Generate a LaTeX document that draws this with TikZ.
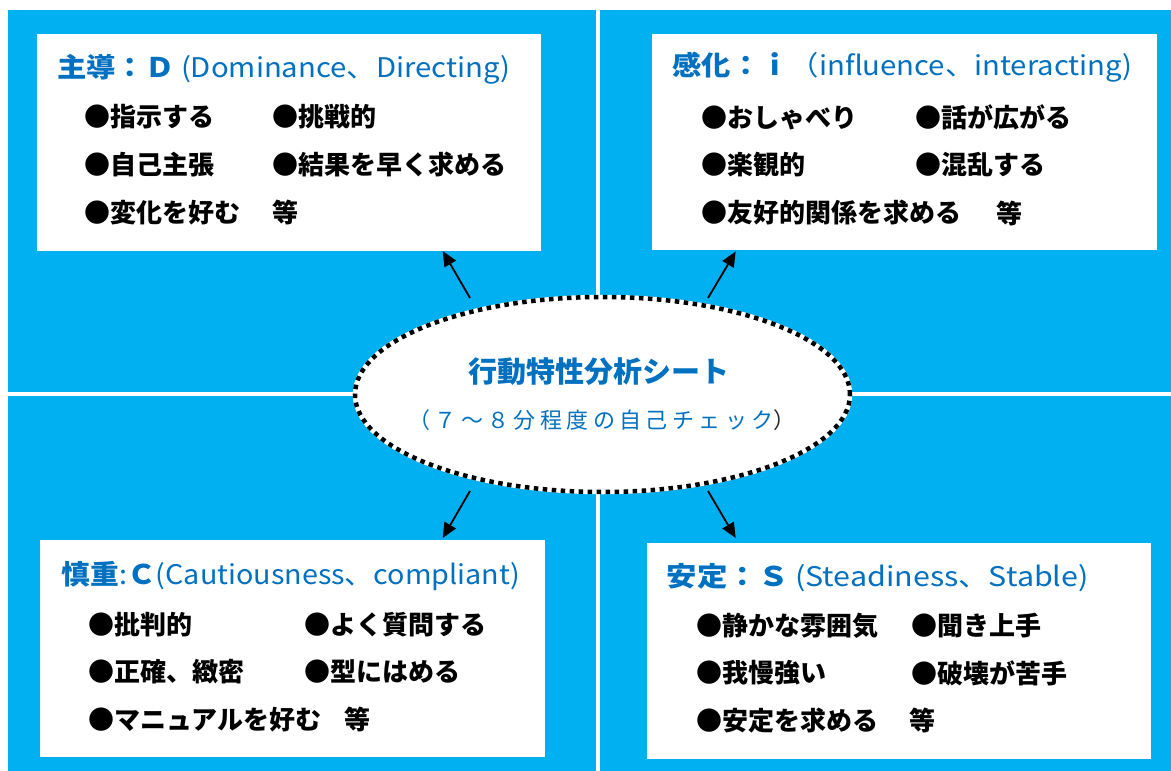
\documentclass[tikz,border=0pt]{standalone}
\usepackage{fontspec}
\setmainfont{Noto Sans CJK JP}
\usetikzlibrary{shapes.geometric,arrows.meta}
\definecolor{bgblue}{HTML}{00B0F0}
\definecolor{hdblue}{HTML}{0070C0}
\tikzset{
  box/.style={fill=white, draw=none, anchor=north west, inner sep=0pt},
  hd/.style={anchor=west, inner sep=0pt, text=hdblue, font=\fontsize{27pt}{31pt}\selectfont},
  itm/.style={anchor=west, inner sep=0pt, text=black, font=\fontsize{26pt}{30pt}\selectfont\bfseries},
  arr/.style={line width=1.8pt, -{Triangle[length=15pt,width=13pt]}},
  dotline/.style={line width=4.5pt, dash pattern=on 4.5pt off 4.5pt, draw=black},
}
\begin{document}
\begin{tikzpicture}[x=1pt,y=-1pt]
\useasboundingbox (0,0) rectangle (1171,771);
\fill[white] (0,0) rectangle (1171,771);
\fill[bgblue] (8,10) rectangle (1171,771);
\fill[white] (595.5,10) rectangle (599.5,771);
\fill[white] (8,392) rectangle (1171,396);

% boxes
\node[box, minimum width=504pt, minimum height=216.5pt] (tl) at (36.5,34) {};
\node[box, minimum width=505pt, minimum height=216pt] (tr) at (652,34) {};
\node[box, minimum width=504.5pt, minimum height=216.5pt] (bl) at (40,540) {};
\node[box, minimum width=504pt, minimum height=216.5pt] (br) at (646.5,542.3) {};

% headings
\node[hd] (tlh) at (57,69.5) {\resizebox{453pt}{\height}{{\bfseries 主導：Ｄ} (Dominance、Directing)}};
\node[hd] (trh) at (672.5,67.5) {\resizebox{460pt}{\height}{{\bfseries 感化：ｉ}（influence、interacting)}};
\node[hd] (blh) at (61.5,576) {\resizebox{458pt}{\height}{{\bfseries 慎重}:{\bfseries Ｃ}(Cautiousness、compliant)}};
\node[hd] (brh) at (666.5,577.5) {\resizebox{422pt}{\height}{{\bfseries 安定：Ｓ} (Steadiness、Stable)}};

% TL items
\node[itm] (tl1) at (84,117) {●指示する};
\node[itm] (tl2) at (272,117) {●挑戦的};
\node[itm] (tl3) at (84,165) {●自己主張};
\node[itm] (tl4) at (272,165) {●結果を早く求める};
\node[itm] (tl5) at (84,212.5) {●変化を好む};
\node[itm] (tl6) at (272,212.5) {等};

% TR items
\node[itm] (tr1) at (701,117.5) {●おしゃべり};
\node[itm] (tr2) at (915.5,117.5) {●話が広がる};
\node[itm] (tr3) at (701,165) {●楽観的};
\node[itm] (tr4) at (915.5,165) {●混乱する};
\node[itm] (tr5) at (701,213) {●友好的関係を求める};
\node[itm] (tr6) at (996,213) {等};

% BL items
\node[itm] (bl1) at (88,624.5) {●批判的};
\node[itm] (bl2) at (304,624.5) {●よく質問する};
\node[itm] (bl3) at (88,671.5) {●正確、緻密};
\node[itm] (bl4) at (304,671.5) {●型にはめる};
\node[itm] (bl5) at (88,719.5) {●マニュアルを好む};
\node[itm] (bl6) at (344,719.5) {等};

% BR items
\node[itm] (br1) at (696,626) {●静かな雰囲気};
\node[itm] (br2) at (911,626) {●聞き上手};
\node[itm] (br3) at (696,673) {●我慢強い};
\node[itm] (br4) at (911,673) {●破壊が苦手};
\node[itm] (br5) at (696,720.5) {●安定を求める};
\node[itm] (br6) at (909,720.5) {等};

% center ellipse
\node[ellipse, fill=white, draw=white, line width=4.5pt, minimum width=495pt, minimum height=195pt, inner sep=0pt] (ell) at (602.5,394.5) {};
\draw[dotline] (ell.center) ellipse [x radius=247.5pt, y radius=97.5pt];
\node[inner sep=0pt, text=hdblue, font=\fontsize{29pt}{33pt}\selectfont\bfseries] (title) at (599,372) {行動特性分析シート};
\node[inner sep=0pt, text=hdblue, font=\fontsize{22pt}{26pt}\selectfont\addfontfeature{LetterSpace=20}] (sub) at (602,420) {（７～８分程度の自己チェック\textcolor{black!85}{）}};

% arrows
\coordinate (a1) at (470,298);
\coordinate (b1) at (442.7,251);
\coordinate (a2) at (708,298);
\coordinate (b2) at (735.7,251.5);
\coordinate (a3) at (470,491);
\coordinate (b3) at (442.7,538);
\coordinate (a4) at (708,491);
\coordinate (b4) at (735.7,538);
\draw[arr] (a1) -- (b1);
\draw[arr] (a2) -- (b2);
\draw[arr] (a3) -- (b3);
\draw[arr] (a4) -- (b4);
\end{tikzpicture}
\end{document}
